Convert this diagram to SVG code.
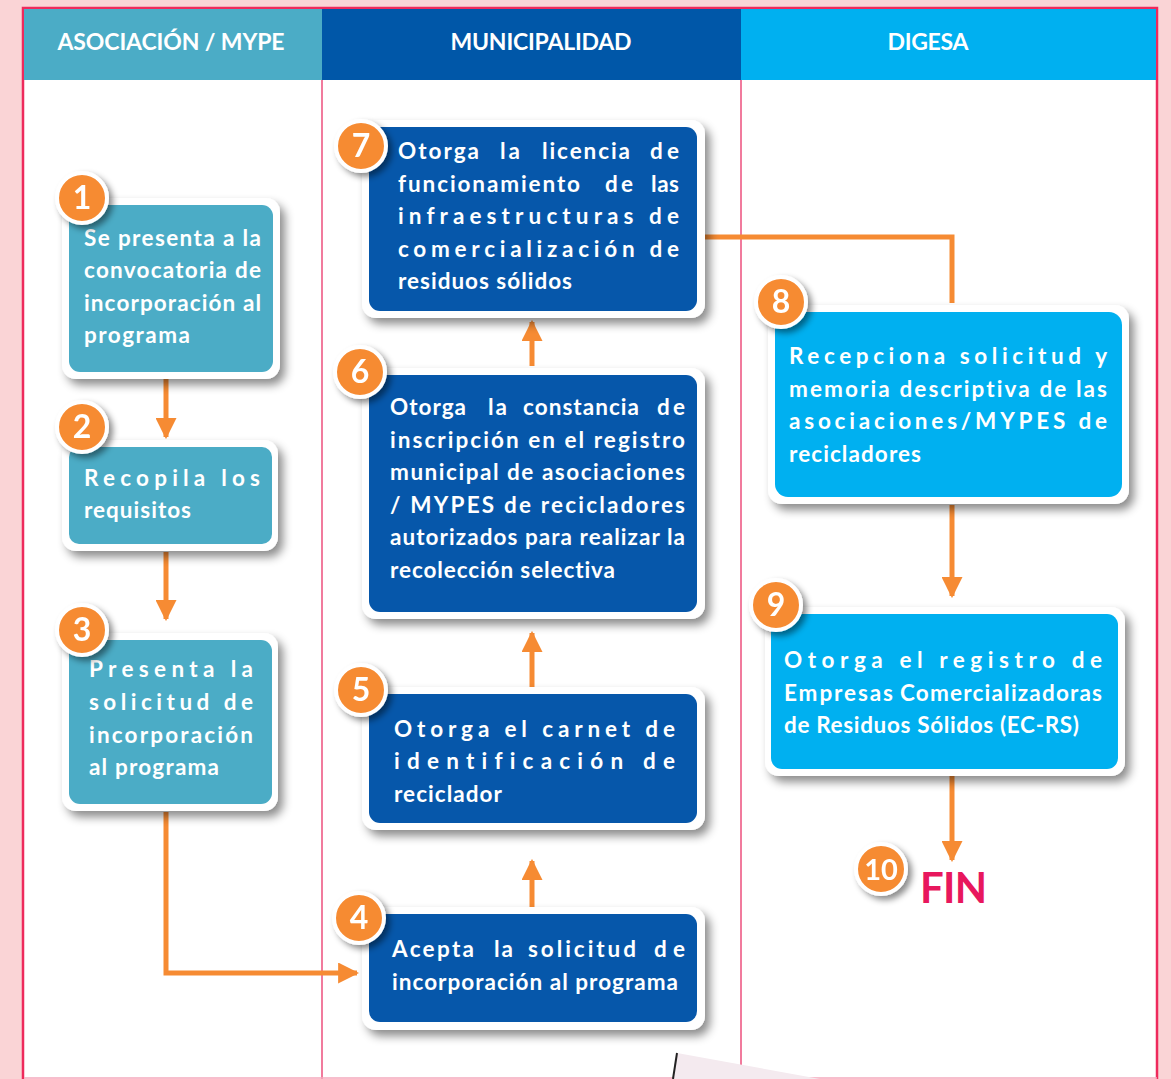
<svg xmlns="http://www.w3.org/2000/svg" width="1171" height="1079" viewBox="0 0 1171 1079">
<defs>
<filter id="sh" x="-20%" y="-20%" width="150%" height="150%">
<feDropShadow dx="5" dy="6" stdDeviation="5" flood-color="#000" flood-opacity="0.45"/>
</filter>
<filter id="bsh" x="-40%" y="-40%" width="200%" height="200%">
<feDropShadow dx="4" dy="4" stdDeviation="3" flood-color="#000" flood-opacity="0.45"/>
</filter>
<marker id="ah" viewBox="0 0 10 10" refX="9" refY="5" markerWidth="4.2" markerHeight="4.2" orient="auto" markerUnits="strokeWidth">
<path d="M0,0 L10,5 L0,10 Z" fill="#f68b33"/>
</marker>
</defs>
<style>
text{font-variant-ligatures:none;font-feature-settings:"liga" 0,"clig" 0}
.hdr{font-family:Lato,"Open Sans",sans-serif;font-weight:700;font-size:23px;fill:#fff;text-anchor:middle}
.t{font-family:Lato,"Open Sans",sans-serif;font-weight:700;font-size:22.5px;fill:#fff}
.frame{fill:#fff}
.teal{fill:#4bacc6}
.blue{fill:#0657aa}
.sky{fill:#00b0f0}
.badge circle{fill:#f68b33;stroke:#fff;stroke-width:4}
.badge text{font-family:Lato,"Open Sans",sans-serif;font-weight:700;font-size:32px;fill:#fff;text-anchor:middle}
.conn{fill:none;stroke:#f68b33;stroke-width:5}
.div{stroke:#ec4f7d;stroke-width:1.5}
</style>
<rect width="1171" height="1079" fill="#fad4d6"/>
<rect x="23" y="8" width="1134" height="1075" fill="#fff" stroke="#ee2a5c" stroke-width="2.5"/>
<rect x="24" y="9" width="298" height="71" fill="#4bacc6"/>
<rect x="322" y="9" width="419" height="71" fill="#0057a8"/>
<rect x="741" y="9" width="415" height="71" fill="#00b0f0"/>
<line class="div" x1="322" y1="80" x2="322" y2="1079"/>
<line class="div" x1="741" y1="80" x2="741" y2="1079"/>
<line x1="24" y1="1078" x2="1157" y2="1078" stroke="#f4a9bd" stroke-width="1.5"/>
<text class="hdr" x="171" y="50" textLength="227">ASOCIACIÓN / MYPE</text>
<text class="hdr" x="541" y="50" textLength="181">MUNICIPALIDAD</text>
<text class="hdr" x="928" y="50" textLength="81">DIGESA</text>

<g id="connectors">
<path class="conn" d="M166,379 V437" marker-end="url(#ah)"/>
<path class="conn" d="M166,552 V619" marker-end="url(#ah)"/>
<path class="conn" d="M166,812 V973 H357" marker-end="url(#ah)"/>
<path class="conn" d="M532,907 V861" marker-end="url(#ah)"/>
<path class="conn" d="M532,687 V633" marker-end="url(#ah)"/>
<path class="conn" d="M532,366 V322" marker-end="url(#ah)"/>
<path class="conn" d="M705,237 H952 V303"/>
<path class="conn" d="M952,505 V596" marker-end="url(#ah)"/>
<path class="conn" d="M952,776 V860" marker-end="url(#ah)"/>
</g>

<g id="node1">
<rect class="frame" x="62" y="198" width="218" height="181" rx="14" filter="url(#sh)"/>
<rect class="teal" x="69" y="205" width="204" height="167" rx="11"/>
<text class="t"><tspan x="84" y="246" textLength="177">Se presenta a la</tspan><tspan x="84" y="278" textLength="177">convocatoria de</tspan><tspan x="84" y="311" textLength="177">incorporación al</tspan><tspan x="84" y="343" textLength="106">programa</tspan></text>
<g class="badge" filter="url(#bsh)"><circle cx="82" cy="198" r="25"/><text x="82" y="209">1</text></g>
</g>

<g id="node2">
<rect class="frame" x="62" y="440" width="216" height="111" rx="14" filter="url(#sh)"/>
<rect class="teal" x="69" y="447" width="203" height="97" rx="10"/>
<text class="t"><tspan x="84" y="486" textLength="176">Recopila los</tspan><tspan x="84" y="518" textLength="107">requisitos</tspan></text>
<g class="badge" filter="url(#bsh)"><circle cx="82" cy="427" r="25"/><text x="82" y="438">2</text></g>
</g>

<g id="node3">
<rect class="frame" x="62" y="633" width="216" height="178" rx="14" filter="url(#sh)"/>
<rect class="teal" x="69" y="640" width="203" height="164" rx="11"/>
<text class="t"><tspan x="89" y="677" textLength="164">Presenta la</tspan><tspan x="89" y="710" textLength="164">solicitud de</tspan><tspan x="89" y="743" textLength="164">incorporación</tspan><tspan x="89" y="775" textLength="130">al programa</tspan></text>
<g class="badge" filter="url(#bsh)"><circle cx="82" cy="630" r="25"/><text x="82" y="641">3</text></g>
</g>

<g id="node7">
<rect class="frame" x="362" y="120" width="343" height="198" rx="14" filter="url(#sh)"/>
<rect class="blue" x="369" y="127" width="328" height="184" rx="11"/>
<text class="t"><tspan x="398" y="159" textLength="81">Otorga</tspan><tspan> </tspan><tspan x="500" y="159" textLength="20">la</tspan><tspan> </tspan><tspan x="542" y="159" textLength="88">licencia</tspan><tspan> </tspan><tspan x="650" y="159" textLength="29">de</tspan><tspan x="398" y="192" textLength="182">funcionamiento</tspan><tspan> </tspan><tspan x="605" y="192" textLength="28">de</tspan><tspan> </tspan><tspan x="651" y="192" textLength="28">las</tspan><tspan x="398" y="224" textLength="281">infraestructuras de</tspan><tspan x="398" y="257" textLength="281">comercialización de</tspan><tspan x="398" y="289" textLength="174">residuos sólidos</tspan></text>
<g class="badge" filter="url(#bsh)"><circle cx="361" cy="146" r="25"/><text x="361" y="157">7</text></g>
</g>

<g id="node6">
<rect class="frame" x="362" y="368" width="343" height="251" rx="14" filter="url(#sh)"/>
<rect class="blue" x="369" y="375" width="328" height="237" rx="11"/>
<text class="t"><tspan x="390" y="415" textLength="76">Otorga</tspan><tspan> </tspan><tspan x="488" y="415" textLength="19">la</tspan><tspan> </tspan><tspan x="523" y="415" textLength="116">constancia</tspan><tspan> </tspan><tspan x="657" y="415" textLength="28">de</tspan><tspan x="390" y="448" textLength="295">inscripción en el registro</tspan><tspan x="390" y="480" textLength="295">municipal de asociaciones</tspan><tspan x="390" y="513" textLength="295">/ MYPES  de recicladores</tspan><tspan x="390" y="545" textLength="295">autorizados para realizar la</tspan><tspan x="390" y="578" textLength="225">recolección selectiva</tspan></text>
<g class="badge" filter="url(#bsh)"><circle cx="360" cy="372" r="25"/><text x="360" y="383">6</text></g>
</g>

<g id="node5">
<rect class="frame" x="362" y="687" width="343" height="143" rx="14" filter="url(#sh)"/>
<rect class="blue" x="369" y="694" width="328" height="129" rx="11"/>
<text class="t"><tspan x="394" y="737" textLength="281">Otorga el carnet de</tspan><tspan x="394" y="769" textLength="281">identificación de</tspan><tspan x="394" y="802" textLength="108">reciclador</tspan></text>
<g class="badge" filter="url(#bsh)"><circle cx="361" cy="690" r="25"/><text x="361" y="701">5</text></g>
</g>

<g id="node4">
<rect class="frame" x="362" y="907" width="343" height="123" rx="14" filter="url(#sh)"/>
<rect class="blue" x="369" y="914" width="328" height="108" rx="11"/>
<text class="t"><tspan x="392" y="957" textLength="82">Acepta</tspan><tspan> </tspan><tspan x="494" y="957" textLength="19">la</tspan><tspan> </tspan><tspan x="528" y="957" textLength="108">solicitud</tspan><tspan> </tspan><tspan x="654" y="957" textLength="31">de</tspan><tspan x="392" y="990" textLength="286">incorporación al programa</tspan></text>
<g class="badge" filter="url(#bsh)"><circle cx="359" cy="918" r="25"/><text x="359" y="929">4</text></g>
</g>

<g id="node8">
<rect class="frame" x="768" y="305" width="361" height="199" rx="14" filter="url(#sh)"/>
<rect class="sky" x="775" y="312" width="347" height="185" rx="13"/>
<text class="t"><tspan x="789" y="364" textLength="318">Recepciona solicitud y</tspan><tspan x="789" y="397" textLength="318">memoria descriptiva de las</tspan><tspan x="789" y="429" textLength="318">asociaciones/MYPES de</tspan><tspan x="789" y="462" textLength="132">recicladores</tspan></text>
<g class="badge" filter="url(#bsh)"><circle cx="781" cy="302" r="25"/><text x="781" y="313">8</text></g>
</g>

<g id="node9">
<rect class="frame" x="765" y="607" width="360" height="169" rx="14" filter="url(#sh)"/>
<rect class="sky" x="771" y="614" width="347" height="155" rx="11"/>
<text class="t"><tspan x="784" y="668" textLength="318">Otorga el registro de</tspan><tspan x="784" y="701" textLength="109">Empresas</tspan><tspan> </tspan><tspan x="900" y="701" textLength="202">Comercializadoras</tspan><tspan x="784" y="733" textLength="295">de Residuos Sólidos (EC-RS)</tspan></text>
<g class="badge" filter="url(#bsh)"><circle cx="776" cy="605" r="25"/><text x="776" y="616">9</text></g>
</g>

<g id="node10">
<g class="badge" filter="url(#bsh)"><circle cx="881" cy="869" r="25"/><text x="881" y="880" style="font-size:29px">10</text></g>
<text x="920" y="903" style="font-family:Lato,'Open Sans',sans-serif;font-weight:700;font-size:42px;fill:#e8175d" textLength="67">FIN</text>
</g>

<polygon points="677,1053 820,1079 673,1079" fill="#f4eaef"/>
<line x1="677" y1="1053" x2="673" y2="1079" stroke="#222" stroke-width="2"/>
</svg>
